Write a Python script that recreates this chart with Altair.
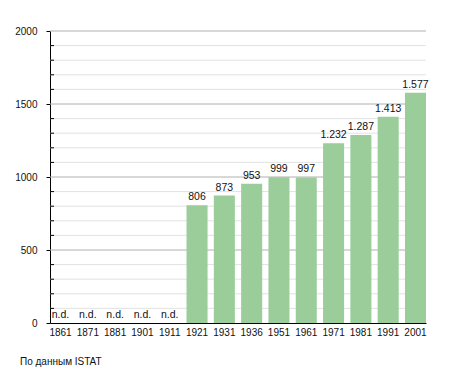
import altair as alt
import pandas as pd

years = ["1861", "1871", "1881", "1901", "1911", "1921", "1931",
         "1936", "1951", "1961", "1971", "1981", "1991", "2001"]
population = [None, None, None, None, None, 806, 873, 953, 999, 997,
              1232, 1287, 1413, 1577]
y_ticks = [0, 500, 1000, 1500, 2000]
major_grid = [500, 1000, 1500, 2000]
minor_grid = [100, 200, 300, 400, 600, 700, 800, 900, 1100, 1200, 1300,
              1400, 1600, 1700, 1800, 1900]
source_note = "По данным ISTAT"
no_data = "n.d."

FONT = "Liberation Sans"

df = pd.DataFrame({"year": years, "pop": population})
df_major = pd.DataFrame({"v": major_grid})
df_minor = pd.DataFrame({"v": minor_grid})

yscale = alt.Scale(domain=[0, 2000], nice=False)
xscale = alt.Scale(paddingInner=0.23, paddingOuter=0)

y_axis = alt.Axis(values=y_ticks, format="d", grid=False, domainColor="#000000",
                  tickColor="#000000", tickSize=4, labelPadding=9,
                  labelColor="#111111", labelFont=FONT, labelFontSize=10)

minor_rules = alt.Chart(df_minor).mark_rule(color="#e2e2e2", strokeWidth=1).encode(
    y=alt.Y("v:Q", scale=yscale, title=None, axis=y_axis)
)
major_rules = alt.Chart(df_major).mark_rule(color="#b0b0b0", strokeWidth=1).encode(
    y=alt.Y("v:Q", scale=yscale, title=None)
)
minor_ticks = alt.Chart(df_minor).mark_rule(color="#000000", strokeWidth=1).encode(
    y=alt.Y("v:Q", scale=yscale, title=None),
    x=alt.value(0),
    x2=alt.value(4),
)

base = alt.Chart(df).encode(
    x=alt.X("year:N", sort=years, scale=xscale, title=None,
            axis=alt.Axis(labelAngle=0, ticks=False, labelPadding=4,
                          domainColor="#000000", labelColor="#111111",
                          labelFont=FONT, labelFontSize=10)),
)

bars = base.mark_bar(color="#9acd9a").encode(
    y=alt.Y("pop:Q", scale=yscale, title=None)
)

labels = base.transform_filter("isValid(datum.pop)").transform_calculate(
    lbl="replace(format(datum.pop, ','), ',', '.')"
).mark_text(baseline="bottom", dy=-3, font=FONT, fontSize=10.5, color="#111111").encode(
    y=alt.Y("pop:Q", scale=yscale, title=None),
    text="lbl:N",
)

nd_labels = base.transform_filter("!isValid(datum.pop)").transform_calculate(
    lbl=f"'{no_data}'", zero="0"
).mark_text(baseline="bottom", dy=-3, font=FONT, fontSize=10.5, color="#111111").encode(
    y=alt.Y("zero:Q", scale=yscale, title=None),
    text="lbl:N",
)

chart = alt.layer(minor_rules, major_rules, minor_ticks, bars, labels, nd_labels).properties(
    width=376,
    height=292,
    autosize="none",
    padding={"left": 42, "top": 23, "right": 21, "bottom": 50},
    title=alt.Title(source_note, orient="bottom", anchor="start", frame="group",
                    dx=-30, offset=20,
                    font=FONT, fontSize=10, fontWeight="normal", color="#111111"),
).configure_view(stroke=None)

chart.save("out.html", embed_options={"renderer": "svg", "actions": False})
